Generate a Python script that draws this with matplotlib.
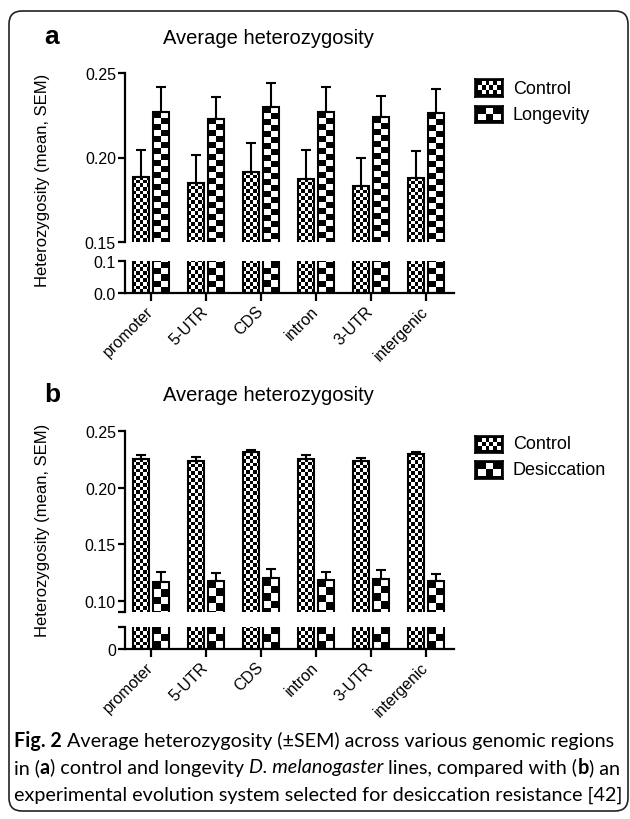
import numpy as np
import matplotlib
matplotlib.use("Agg")
import matplotlib.pyplot as plt
from matplotlib import font_manager
from matplotlib.patches import FancyBboxPatch

# ---- data ----
REGIONS = ["promoter", "5-UTR", "CDS", "intron", "3-UTR", "intergenic"]

# panel a: control vs longevity
CONTROL_A = [0.1885, 0.185, 0.1915, 0.1875, 0.183, 0.188]
CONTROL_A_SEM = [0.016, 0.0163, 0.017, 0.0167, 0.0165, 0.016]
LONGEVITY = [0.2268, 0.223, 0.2297, 0.2268, 0.2238, 0.2262]
LONGEVITY_SEM = [0.0147, 0.013, 0.0143, 0.0147, 0.0128, 0.0143]

# panel b: control vs desiccation
CONTROL_B = [0.2255, 0.2235, 0.231, 0.2255, 0.2232, 0.2298]
CONTROL_B_SEM = [0.003, 0.0035, 0.0025, 0.003, 0.003, 0.002]
DESICCATION = [0.1165, 0.117, 0.120, 0.118, 0.1195, 0.1175]
DESICCATION_SEM = [0.0085, 0.0075, 0.008, 0.0072, 0.0072, 0.0065]

W, H = 630, 820
FONT = ["Liberation Sans", "DejaVu Sans"]
plt.rcParams["font.family"] = FONT

# caption font: something condensed if we have it
_names = {f.name for f in font_manager.fontManager.ttflist}
CAP_FONT = [n for n in ("Liberation Sans Narrow", "Lato", "Liberation Sans") if n in _names]
CAP_FONT.append("DejaVu Sans")

WIDTH = 0.30
OFF = 0.18
x = np.arange(len(REGIONS))

fig = plt.figure(figsize=(W / 100, H / 100), dpi=100)


def rect(x0, y0, x1, y1):
    """pixel box (origin top-left) -> figure fraction rect"""
    return [x0 / W, 1 - y1 / H, (x1 - x0) / W, (y1 - y0) / H]


def checker_into(ax, x0, y0, w, h, col_px, row_px):
    p0 = ax.transData.transform((x0, y0))
    p1 = ax.transData.transform((x0 + w, y0 + h))
    ncol = max(2, int(round(abs(p1[0] - p0[0]) / col_px)))
    nrow = max(2, int(round(abs(p1[1] - p0[1]) / row_px)))
    grid = np.add.outer(np.arange(nrow), np.arange(ncol)) % 2
    ax.imshow(grid, cmap="gray", vmin=0, vmax=1, extent=(x0, x0 + w, y0, y0 + h),
              interpolation="nearest", aspect="auto", zorder=2)


def style_axis(ax, bottom):
    for s in ["top", "right"]:
        ax.spines[s].set_visible(False)
    ax.spines["left"].set_linewidth(1.6)
    ax.spines["bottom"].set_linewidth(1.6)
    ax.spines["bottom"].set_visible(bottom)
    ax.tick_params(axis="y", width=1.6, length=5, labelsize=11.5, pad=1.5)
    if bottom:
        ax.set_xticks(x)
        ax.set_xticklabels(REGIONS, rotation=45, ha="right", va="center",
                           rotation_mode="anchor", fontsize=11.5)
        ax.tick_params(axis="x", width=1.6, length=6, pad=5)
    else:
        ax.set_xticks([])


def draw_panel(top_box, bot_box, ctrl, ctrl_sem, trt, trt_sem, ylim_top, ylim_bot,
               top_ticks, top_labels, bot_ticks, bot_labels, trt_px):
    ax_t = fig.add_axes(rect(*top_box))
    ax_b = fig.add_axes(rect(*bot_box))
    for ax, ylim in ((ax_t, ylim_top), (ax_b, ylim_bot)):
        ax.set_xlim(-0.473, 5.51)
        ax.set_ylim(*ylim)
        b1 = ax.bar(x - OFF, ctrl, WIDTH, facecolor="none", edgecolor="black",
                    linewidth=1.5, zorder=3)
        b2 = ax.bar(x + OFF, trt, WIDTH, facecolor="none", edgecolor="black",
                    linewidth=1.5, zorder=3)
        for p in b1:
            checker_into(ax, p.get_x(), p.get_y(), p.get_width(), p.get_height(), 3.6, 3.6)
        for p in b2:
            checker_into(ax, p.get_x(), p.get_y(), p.get_width(), p.get_height(), *trt_px)
        ax.set_xlim(-0.473, 5.51)
        ax.set_ylim(*ylim)
    zeros = np.zeros(len(ctrl))
    ax_t.errorbar(x - OFF, ctrl, yerr=[zeros, ctrl_sem], fmt="none", ecolor="black",
                  elinewidth=1.5, capsize=3.6, capthick=1.5, zorder=4)
    ax_t.errorbar(x + OFF, trt, yerr=[zeros, trt_sem], fmt="none", ecolor="black",
                  elinewidth=1.5, capsize=3.6, capthick=1.5, zorder=4)
    style_axis(ax_t, False)
    style_axis(ax_b, True)
    ax_t.set_yticks(top_ticks)
    ax_t.set_yticklabels(top_labels)
    ax_b.set_yticks(bot_ticks)
    ax_b.set_yticklabels(bot_labels)
    return ax_t, ax_b


draw_panel((125, 74, 454, 243), (125, 262, 454, 294),
           CONTROL_A, CONTROL_A_SEM, LONGEVITY, LONGEVITY_SEM,
           (0.15, 0.25), (0.0, 0.1),
           [0.15, 0.20, 0.25], ["0.15", "0.20", "0.25"],
           [0.0, 0.1], ["0.0", "0.1"], (7.0, 6.0))

draw_panel((125, 432, 454, 613), (125, 628, 454, 650),
           CONTROL_B, CONTROL_B_SEM, DESICCATION, DESICCATION_SEM,
           (0.09, 0.25), (0.0, 0.02),
           [0.09, 0.10, 0.15, 0.20, 0.25], ["", "0.10", "0.15", "0.20", "0.25"],
           [0.0, 0.02], ["0", ""], (7.5, 7.5))


def swatch(box, col_px, row_px):
    ax = fig.add_axes(rect(*box))
    ax.set_xlim(0, 1)
    ax.set_ylim(0, 1)
    checker_into(ax, 0.1, 0.15, 0.8, 0.7, col_px, row_px)
    ax.set_facecolor("black")
    ax.set_xticks([])
    ax.set_yticks([])
    for s in ax.spines.values():
        s.set_linewidth(1.2)
    ax.set_xlim(0, 1)
    ax.set_ylim(0, 1)


# legends
swatch((475, 80, 503, 98), 4.0, 4.0)
swatch((475, 107, 503, 124), 8.0, 7.0)
fig.text(513 / W, 1 - 89 / H, "Control", fontsize=13, va="center", ha="left")
fig.text(513 / W, 1 - 116 / H, "Longevity", fontsize=13, va="center", ha="left")
swatch((475, 437, 503, 454), 4.0, 4.0)
swatch((475, 462, 503, 480), 8.0, 7.5)
fig.text(513 / W, 1 - 445 / H, "Control", fontsize=13, va="center", ha="left")
fig.text(513 / W, 1 - 471 / H, "Desiccation", fontsize=13, va="center", ha="left")

# titles, panel letters, y labels
for y_title, letter, y_lab in ((38, "a", 180), (396, "b", 530)):
    fig.text(268 / W, 1 - y_title / H, "Average heterozygosity", fontsize=14.5,
             ha="center", va="center")
    fig.text(52 / W, 1 - (y_title - 1) / H, letter, fontsize=19, weight="bold",
             ha="center", va="center")
    fig.text(43 / W, 1 - y_lab / H, "Heterozygosity (mean, SEM)", fontsize=12,
             rotation=90, ha="center", va="center")

# caption with mixed styles
renderer = fig.canvas.get_renderer()


def text_w(s, size, **kw):
    t = fig.text(0, 0, s, fontsize=size, family=CAP_FONT, **kw)
    w = t.get_window_extent(renderer=renderer).width
    t.remove()
    return w


LINES = [
    [("Fig. 2", "bold", "normal"), ("Average heterozygosity (\u00b1SEM) across various genomic regions", "normal", "normal")],
    [("in (", "normal", "normal"), ("a", "bold", "normal"), (") control and longevity", "normal", "normal"),
     ("D. melanogaster", "normal", "italic"), ("lines, compared with (", "normal", "normal"),
     ("b", "bold", "normal"), (") an", "normal", "normal")],
    [("experimental evolution system selected for desiccation resistance [42]", "normal", "normal")],
]
SPACE_AFTER = [[True, False], [False, False, True, True, False, False, False], [False]]

base = 12.0
w1 = text_w("Fig. 2", base, weight="bold") + text_w("x x", base) - text_w("xx", base) + \
    text_w("Average heterozygosity (\u00b1SEM) across various genomic regions", base)
size = base * 598 / w1

space = text_w("x x", size) - text_w("xx", size)
for (y_px, parts, spaces) in zip((741, 768, 795), LINES, SPACE_AFTER):
    xp = 14
    for (s, wt, st), sp in zip(parts, spaces):
        fig.text(xp / W, 1 - y_px / H, s, fontsize=size, weight=wt, style=st,
                 family=CAP_FONT, va="center", ha="left")
        xp += text_w(s, size, weight=wt, style=st)
        if sp:
            xp += space

# outer rounded frame
frame = FancyBboxPatch((9 / 100, (H - 812) / 100), (628 - 9) / 100, (812 - 12) / 100,
                       boxstyle="round,pad=0,rounding_size=0.13",
                       transform=fig.dpi_scale_trans, facecolor="none",
                       edgecolor="#222222", linewidth=1.2)
fig.add_artist(frame)

fig.savefig("out.png", dpi=100, facecolor="white")
